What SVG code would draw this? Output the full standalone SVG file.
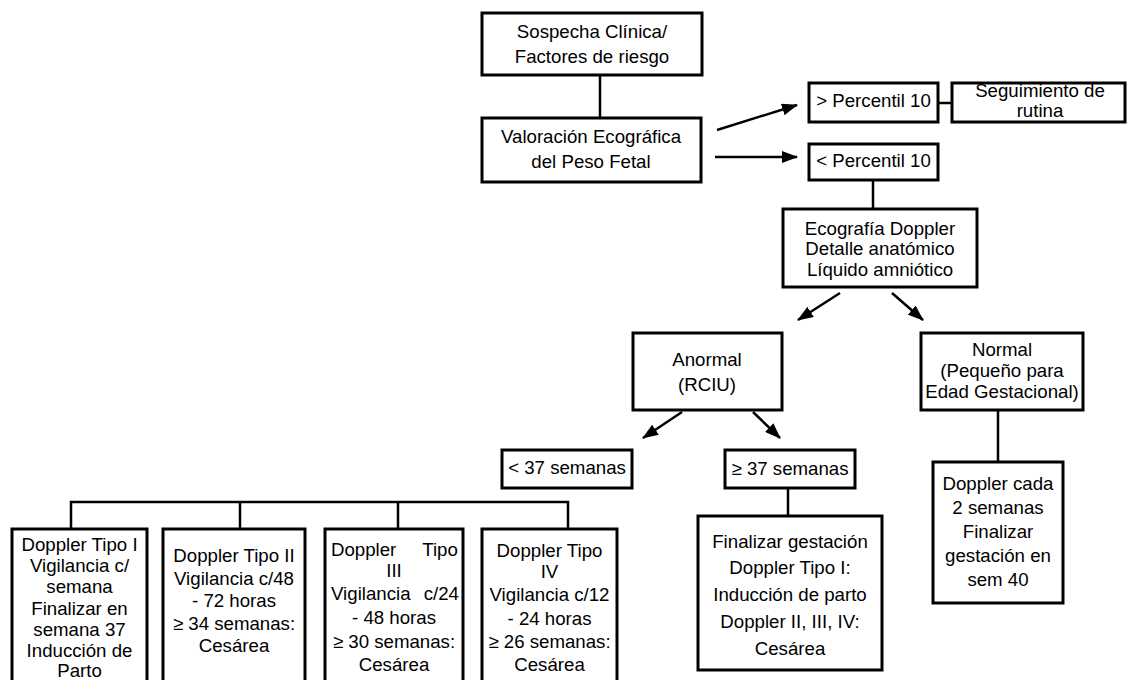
<svg xmlns="http://www.w3.org/2000/svg" width="1127" height="680" viewBox="0 0 1127 680">
<style>
.box{fill:#fff;stroke:#000;stroke-width:3}
.ln{fill:none;stroke:#000;stroke-width:2.5}
.t{font-family:"Liberation Sans",Arial,sans-serif;font-size:18.67px;fill:#000;text-anchor:middle}
.ts{font-family:"Liberation Sans",Arial,sans-serif;font-size:18.67px;fill:#000;text-anchor:start}
</style>
<defs>
<marker id="ah" viewBox="0 0 16 12" refX="15" refY="6" markerWidth="16" markerHeight="12" markerUnits="userSpaceOnUse" orient="auto">
<path d="M0,0 L16,6 L0,12 z" fill="#000"/>
</marker>
</defs>
<rect width="1127" height="680" fill="#fff"/>
<g id="connectors">
<line class="ln" x1="600" y1="75" x2="600" y2="118"/>
<line class="ln" x1="938" y1="103" x2="952" y2="103"/>
<line class="ln" x1="873" y1="180" x2="873" y2="209"/>
<polyline class="ln" points="71,529 71,502 568,502 568,529"/>
<line class="ln" x1="240" y1="502" x2="240" y2="529"/>
<line class="ln" x1="398" y1="502" x2="398" y2="529"/>
<line class="ln" x1="788" y1="488" x2="788" y2="516"/>
<line class="ln" x1="998" y1="410" x2="998" y2="462"/>
<line class="ln" x1="717" y1="130" x2="797" y2="105" marker-end="url(#ah)"/>
<line class="ln" x1="715" y1="157" x2="797" y2="157" marker-end="url(#ah)"/>
<line class="ln" x1="840" y1="293" x2="798" y2="320" marker-end="url(#ah)"/>
<line class="ln" x1="892" y1="293" x2="923" y2="320" marker-end="url(#ah)"/>
<line class="ln" x1="682" y1="412" x2="643" y2="438" marker-end="url(#ah)"/>
<line class="ln" x1="753" y1="412" x2="780" y2="438" marker-end="url(#ah)"/>
</g>
<g id="sospecha">
<rect class="box" x="482" y="13" width="220" height="62"/>
<text class="t" x="592" y="38">Sospecha Clínica/</text>
<text class="t" x="592" y="63">Factores de riesgo</text>
</g>
<g id="valoracion">
<rect class="box" x="482" y="118" width="219" height="64"/>
<text class="t" x="591" y="143">Valoración Ecográfica</text>
<text class="t" x="591" y="168">del Peso Fetal</text>
</g>
<g id="mayor-p10">
<rect class="box" x="809" y="83" width="129" height="39"/>
<text class="t" x="873.5" y="107">&gt; Percentil 10</text>
</g>
<g id="seguimiento">
<rect class="box" x="952" y="83" width="173" height="39"/>
<text class="t" x="1040" y="97">Seguimiento de</text>
<text class="t" x="1040" y="117">rutina</text>
</g>
<g id="menor-p10">
<rect class="box" x="809" y="144" width="129" height="36"/>
<text class="t" x="873.5" y="167">&lt; Percentil 10</text>
</g>
<g id="ecografia">
<rect class="box" x="783" y="209" width="194" height="78"/>
<text class="t" x="880" y="235">Ecografía Doppler</text>
<text class="t" x="880" y="255">Detalle anatómico</text>
<text class="t" x="880" y="276">Líquido amniótico</text>
</g>
<g id="anormal">
<rect class="box" x="633" y="333" width="149" height="77"/>
<text class="t" x="707" y="366">Anormal</text>
<text class="t" x="707" y="391">(RCIU)</text>
</g>
<g id="normal">
<rect class="box" x="921" y="333" width="162" height="77"/>
<text class="t" x="1002" y="356">Normal</text>
<text class="t" x="1002" y="377">(Pequeño para</text>
<text class="t" x="1002" y="398">Edad Gestacional)</text>
</g>
<g id="menor37">
<rect class="box" x="502" y="450" width="130" height="38"/>
<text class="t" x="567" y="474">&lt; 37 semanas</text>
</g>
<g id="mayor37">
<rect class="box" x="725" y="450" width="130" height="38"/>
<text class="t" x="790" y="475">≥ 37 semanas</text>
</g>
<g id="finalizar">
<rect class="box" x="698" y="516" width="184" height="154"/>
<text class="t" x="790" y="548">Finalizar gestación</text>
<text class="t" x="790" y="574">Doppler Tipo I:</text>
<text class="t" x="790" y="601">Inducción de parto</text>
<text class="t" x="790" y="628">Doppler II, III, IV:</text>
<text class="t" x="790" y="655">Cesárea</text>
</g>
<g id="doppler-cada">
<rect class="box" x="933" y="462" width="130" height="141"/>
<text class="t" x="998" y="490">Doppler cada</text>
<text class="t" x="998" y="514">2 semanas</text>
<text class="t" x="998" y="538">Finalizar</text>
<text class="t" x="998" y="562">gestación en</text>
<text class="t" x="998" y="586">sem 40</text>
</g>
<g id="tipo1">
<rect class="box" x="12" y="529" width="135" height="160"/>
<text class="t" x="79.5" y="551">Doppler Tipo I</text>
<text class="t" x="79.5" y="572">Vigilancia c/</text>
<text class="t" x="79.5" y="593">semana</text>
<text class="t" x="79.5" y="615">Finalizar en</text>
<text class="t" x="79.5" y="636">semana 37</text>
<text class="t" x="79.5" y="657">Inducción de</text>
<text class="t" x="79.5" y="677">Parto</text>
</g>
<g id="tipo2">
<rect class="box" x="163" y="529" width="142" height="160"/>
<text class="t" x="234" y="562">Doppler Tipo II</text>
<text class="t" x="234" y="585">Vigilancia c/48</text>
<text class="t" x="234" y="607">- 72 horas</text>
<text class="t" x="234" y="630">≥ 34 semanas:</text>
<text class="t" x="234" y="652">Cesárea</text>
</g>
<g id="tipo3">
<rect class="box" x="325" y="529" width="138" height="160"/>
<text class="ts" x="331" y="556" word-spacing="21">Doppler Tipo</text>
<text class="t" x="394" y="577">III</text>
<text class="ts" x="331" y="600" word-spacing="8">Vigilancia c/24</text>
<text class="t" x="394" y="624">- 48 horas</text>
<text class="t" x="394" y="648">≥ 30 semanas:</text>
<text class="t" x="394" y="671">Cesárea</text>
</g>
<g id="tipo4">
<rect class="box" x="482" y="529" width="135" height="160"/>
<text class="t" x="549.5" y="557">Doppler Tipo</text>
<text class="t" x="549.5" y="578">IV</text>
<text class="t" x="549.5" y="601">Vigilancia c/12</text>
<text class="t" x="549.5" y="625">- 24 horas</text>
<text class="t" x="549.5" y="648">≥ 26 semanas:</text>
<text class="t" x="549.5" y="671">Cesárea</text>
</g>
</svg>
